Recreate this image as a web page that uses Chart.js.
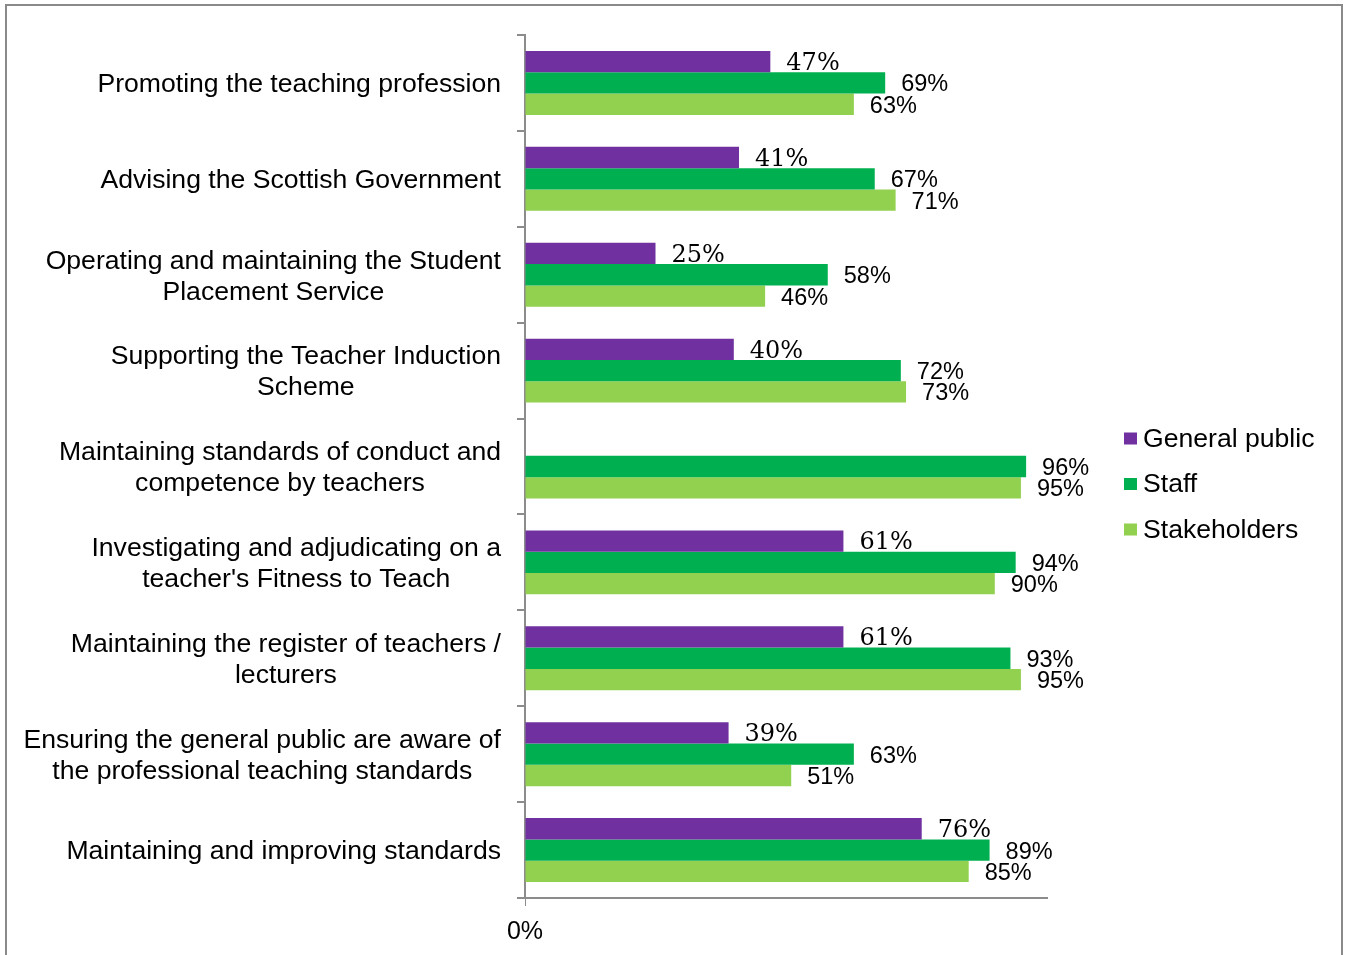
<!DOCTYPE html>
<html>
<head>
<meta charset="utf-8">
<title>Views on functions</title>
<script src="https://cdn.jsdelivr.net/npm/chart.js@4/dist/chart.umd.min.js"></script>
<style>
  html, body { margin: 0; padding: 0; background: #fff; }
  #wrap { position: relative; width: 1345px; height: 955px; }
  canvas { display: block; }
</style>
</head>
<body>
<div id="wrap"><canvas id="chart" width="1345" height="955"></canvas></div>
<script>
// Categories (each entry is one label; inner arrays are line breaks)
const categories = [
  ['Promoting the teaching profession'],
  ['Advising the Scottish Government'],
  ['Operating and maintaining the Student', 'Placement Service'],
  ['Supporting the Teacher Induction', 'Scheme'],
  ['Maintaining standards of conduct and', 'competence by teachers'],
  ['Investigating and adjudicating on a', "teacher's Fitness to Teach"],
  ['Maintaining the register of teachers /', 'lecturers'],
  ['Ensuring the general public are aware of', 'the professional teaching standards'],
  ['Maintaining and improving standards']
];

const seriesNames = ['General public', 'Staff', 'Stakeholders'];

// Percentages per group
const generalPublic = [47, 41, 25, 40, null, 61, 61, 39, 76];
const staff         = [69, 67, 58, 72, 96, 94, 93, 63, 89];
const stakeholders  = [63, 71, 46, 73, 95, 90, 95, 51, 85];

const xTickLabels = ['0%'];

const colors = ['#7030A0', '#00B050', '#92D050'];
const AXIS = '#8c8c8c';
const SANS = '"Liberation Sans", Arial, sans-serif';

// Category labels: block right-aligned against the axis, lines centred within it
const categoryLabels = {
  id: 'categoryLabels',
  afterDraw(chart) {
    const ctx = chart.ctx;
    const y = chart.scales.y;
    const right = chart.chartArea.left - 24;
    ctx.save();
    ctx.font = '26.6px ' + SANS;
    ctx.fillStyle = '#000';
    ctx.textAlign = 'center';
    ctx.textBaseline = 'middle';
    chart.data.labels.forEach((lines, i) => {
      const cy = y.getPixelForTick(i) + 2;
      const w = Math.max(...lines.map(l => ctx.measureText(l).width));
      const cx = right - w / 2;
      const lh = 31;
      lines.forEach((line, j) => {
        ctx.fillText(line, cx, cy + (j - (lines.length - 1) / 2) * lh);
      });
    });
    ctx.restore();
  }
};

// Value labels just past the end of each bar
const valueLabels = {
  id: 'valueLabels',
  afterDatasetsDraw(chart) {
    const ctx = chart.ctx;
    ctx.save();
    ctx.fillStyle = '#000';
    ctx.textAlign = 'left';
    ctx.textBaseline = 'middle';
    chart.data.datasets.forEach((ds, di) => {
      const meta = chart.getDatasetMeta(di);
      ctx.font = di === 0 ? '24px "DejaVu Serif", serif' : '23.5px ' + SANS;
      meta.data.forEach((el, i) => {
        const v = ds.data[i];
        if (v === null || v === undefined) return;
        ctx.fillText(v + '%', el.x + 16, el.y + 2);
      });
    });
    ctx.restore();
  }
};

// Legend to the right of the plot
const sideLegend = {
  id: 'sideLegend',
  afterDraw(chart) {
    const ctx = chart.ctx;
    const x0 = 1124;
    const ys = [439.5, 485, 530.5];
    ctx.save();
    ctx.font = '26.6px ' + SANS;
    ctx.textAlign = 'left';
    ctx.textBaseline = 'middle';
    chart.data.datasets.forEach((ds, i) => {
      ctx.fillStyle = ds.backgroundColor;
      ctx.fillRect(x0, ys[i] - 7, 13, 12);
      ctx.fillStyle = '#000';
      ctx.fillText(ds.label, x0 + 19, ys[i]);
    });
    ctx.restore();
  }
};

// Outer frame
const frame = {
  id: 'frame',
  afterDraw(chart) {
    const ctx = chart.ctx;
    ctx.save();
    ctx.strokeStyle = '#8a8a8a';
    ctx.lineWidth = 2;
    ctx.strokeRect(6, 5, 1336, 970);
    ctx.restore();
  }
};

new Chart(document.getElementById('chart'), {
  type: 'bar',
  data: {
    labels: categories,
    datasets: [
      { label: seriesNames[0], data: generalPublic, backgroundColor: colors[0] },
      { label: seriesNames[1], data: staff, backgroundColor: colors[1] },
      { label: seriesNames[2], data: stakeholders, backgroundColor: colors[2] }
    ]
  },
  options: {
    indexAxis: 'y',
    responsive: false,
    animation: false,
    devicePixelRatio: 1,
    barPercentage: 1,
    categoryPercentage: 0.667,
    layout: { padding: { left: 517, top: 35, right: 298, bottom: 0 } },
    plugins: {
      legend: { display: false },
      tooltip: { enabled: false }
    },
    scales: {
      x: {
        type: 'linear',
        min: 0,
        max: 100,
        afterFit: (scale) => { scale.height = 57; },
        ticks: {
          stepSize: 100,
          padding: 11,
          color: '#000',
          font: { family: SANS, size: 25 },
          callback: (v) => v === 0 ? xTickLabels[0] : ''
        },
        grid: {
          drawOnChartArea: false,
          tickLength: 8,
          tickColor: (c) => (c.tick && c.tick.value === 0) ? AXIS : 'rgba(0,0,0,0)'
        },
        border: { color: AXIS, width: 2 }
      },
      y: {
        type: 'category',
        ticks: { display: false },
        grid: {
          offset: true,
          drawOnChartArea: false,
          tickLength: 8,
          tickColor: AXIS,
          lineWidth: 2
        },
        border: { color: AXIS, width: 2 }
      }
    }
  },
  plugins: [categoryLabels, valueLabels, sideLegend, frame]
});
</script>
</body>
</html>
